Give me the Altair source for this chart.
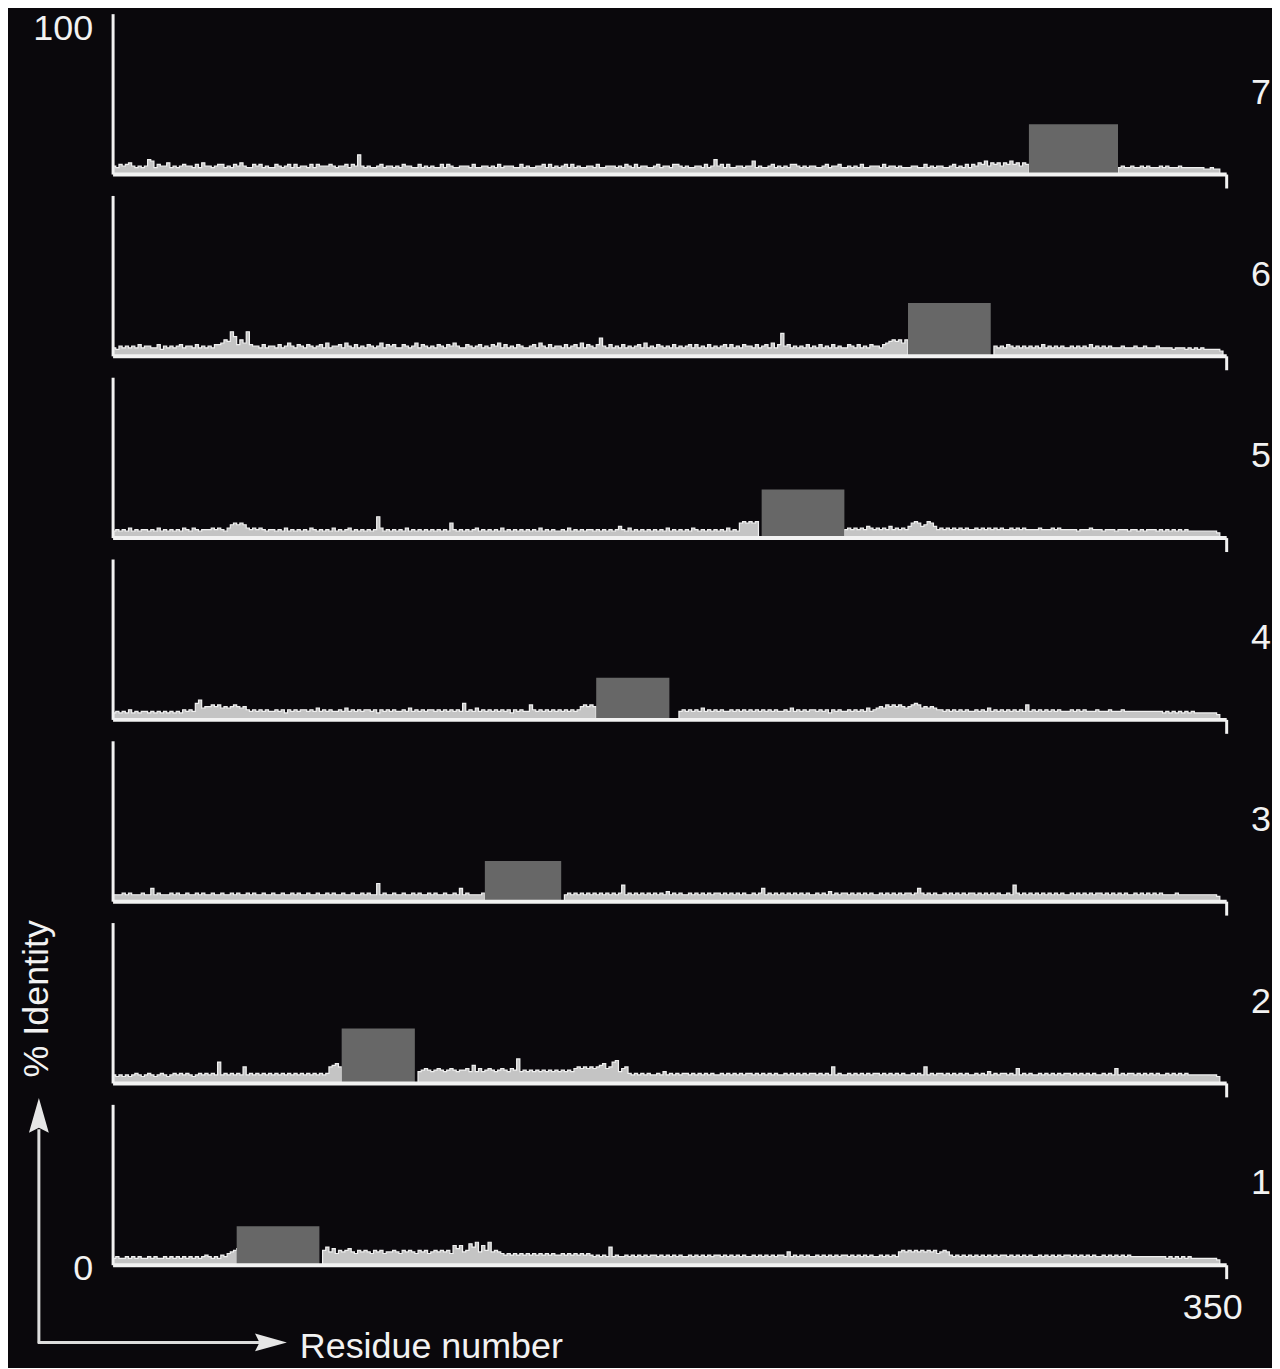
import altair as alt
import pandas as pd

# ---------------- data ----------------
panel_ids = [7, 6, 5, 4, 3, 2, 1]
block_start = [288, 250, 204, 152, 117, 72, 39]
block_end = [316, 276, 230, 175, 141, 95, 65]
block_height = [31, 33, 30, 26, 25, 34, 24]

# per-residue background identity (%), one hex digit per residue, 350 residues per panel
noise_p7 = [
    "5465675454 5984655745 4565546475 5456645465 7544656454",
    "4654564645 5464655565 4556465c54 5445645545 4655446454",
    "5446465445 5546445545 4645554464 5445564645 4564645445",
    "5464455545 4654645544 5645546654 5445546459 5646445545",
    "5845445645 4546654545 5445645564 4545464455 5464554544",
    "4554464545 5445645464 6576857675 7686757600 0000000000",
    "0000000000 0000004544 5445454445 4544454444 4443343300",
]
noise_p6 = [
    "5465656575 6655746565 6756657565 65778a9fc7 a8f7665756",
    "6575686576 5765675856 6758657565 7656857675 5765685765",
    "6576576865 5765675657 6857565765 5675865756 6575675857",
    "657b657565 7565675856 5765657565 6757565756 5675756576",
    "6575675857 e675656575 6575657565 5765756576 65789a9a8a",
    "0000000000 0000000000 0000000656 5765656565 6575656565",
    "5656565756 5656555655 5655655565 5554555454 5454444430",
]
noise_p5 = [
    "4545464545 5454645454 5465465455 5656546898 9865656545",
    "5454645454 5465454546 4545645454 545d645454 5464545454",
    "5454549545 4545645454 5464545454 5454645454 4546454545",
    "5454545457 5464545454 5454645454 5465454545 45464549a9",
    "a9a0000000 0000000000 0000000000 5656565765 6565756565",
    "79a978a975 6565656565 5656565656 5565656555 5655565655",
    "5554555655 5455545554 5545455545 4545454544 4444444300",
]
noise_p4 = [
    "4545464545 5454545454 546565ac78 8989787898 7865656565",
    "5656465656 6565756565 5657565656 6564656565 5657565656",
    "6565656565 a565756565 6565646565 5965656565 6565656898",
    "9800000000 0000000000 0000000056 5656575656 5655656565",
    "6565656565 5657565656 6565646565 5656565756 7879898987",
    "89a9787876 6565656565 5656575656 5656565956 5656565655",
    "5656565556 5556555655 5555555555 4545454545 4444444300",
]
noise_p3 = [
    "4445454445 4484544454 5445445454 4544544545 4454544544",
    "5445445454 4544544545 4454454454 544b454454 4544545445",
    "4544544548 4544445000 0000000000 0000000000 0045454545",
    "4545454545 a454545454 5454645454 4545454545 5454545454",
    "4545845454 5454545454 4545464545 5454545454 4545454545",
    "5458545454 4545454545 5454545454 454a545454 5454545454",
    "4545454545 5454545454 4545454545 4444544444 4444444300",
]
noise_p2 = [
    "5454545654 5654565456 5656545656 565d565656 5a56565656",
    "5656565656 56565656ab ca00000000 0000000000 0000007898",
    "7898789878 897b797898 7898798f78 7878787878 787879a9a9",
    "a9abc9ade7 9a65656565 5657565656 6565656565 5656565656",
    "6565656565 5656565656 656565a565 5656565656 6565656565",
    "56565a5656 6565656565 5656575656 6565956565 5656565656",
    "6565656565 5656595656 6565656565 5656565655 5555555400",
]
noise_p1 = [
    "4544545454 4545445454 5454545456 545465789a 0000000000",
    "0000000000 0000009b8a 7989a87989 8798978898 7989879897",
    "8989897cac 89dbe8c9e8 9876767676 7676767676 6767676767",
    "656565b565 5656565656 6565656565 5656565656 6565656565",
    "5656565656 6585656565 5656565656 6565656565 5656565898",
    "9898989897 8986565656 5656565656 6565656565 5656565656",
    "6565656565 5656565656 5555555555 5454545454 4444444300",
]
noise_lines = [noise_p7, noise_p6, noise_p5, noise_p4, noise_p3, noise_p2, noise_p1]

x_max = 350
y_title = "% Identity"
x_title = "Residue number"

# ---------------- style ----------------
W = 1118
H = 161
BG = "#0a080c"
FG = "#f2f2f2"
NOISE = "#c4c4c4"
NOISE_EDGE = "#f0f0f0"
BLOCK = "#676767"
FONT = "Liberation Sans"
FS = 36


def parse(lines):
    s = "".join(lines).replace(" ", "")
    return [int(c, 16) for c in s]


def make_panel(i):
    pid = panel_ids[i]
    vals = parse(noise_lines[i])
    n = len(vals)
    df = pd.DataFrame({"residue": list(range(n)) + [x_max], "identity": vals + [0]})
    bdf = pd.DataFrame({"start": [block_start[i]], "end": [block_end[i]],
                        "height": [block_height[i]]})
    ldf = pd.DataFrame({"panel": [str(pid)]})
    is_top = i == 0
    is_bottom = i == len(panel_ids) - 1

    xscale = alt.Scale(domain=[0, x_max], nice=False, zero=True)
    yscale = alt.Scale(domain=[0, 100], nice=False)
    xaxis = alt.Axis(values=[x_max], domainColor=FG, domainWidth=4, tickColor=FG,
                     tickWidth=3, tickSize=14, labels=is_bottom, labelColor=FG,
                     labelFont=FONT, labelFontSize=FS, labelOffset=-14, labelPadding=12,
                     labelFlush=False, title=None, grid=False, zindex=1)
    if is_top:
        yvals, yoff = [100], 15
    elif is_bottom:
        yvals, yoff = [0], 4
    else:
        yvals, yoff = [], 0
    yaxis = alt.Axis(values=yvals, ticks=False, tickSize=0, labels=is_top or is_bottom,
                     labelColor=FG, labelFont=FONT, labelFontSize=FS, labelPadding=20,
                     labelOffset=yoff, labelBaseline="middle", domainColor=FG,
                     domainWidth=3, title=None, grid=False, zindex=1)

    area = alt.Chart(df).mark_area(interpolate="step-after", color=NOISE).encode(
        x=alt.X("residue:Q", scale=xscale, axis=xaxis),
        y=alt.Y("identity:Q", scale=yscale, axis=yaxis),
    )
    edge = alt.Chart(df).mark_line(interpolate="step-after", color=NOISE_EDGE,
                                   strokeWidth=1.2).encode(
        x=alt.X("residue:Q", scale=xscale, axis=xaxis),
        y=alt.Y("identity:Q", scale=yscale, axis=yaxis),
    )
    rect = alt.Chart(bdf).mark_rect(color=BLOCK).encode(
        x=alt.X("start:Q", scale=xscale, axis=xaxis),
        x2="end:Q",
        y=alt.Y("height:Q", scale=yscale, axis=yaxis),
        y2=alt.datum(0),
    )
    label = alt.Chart(ldf).mark_text(font=FONT, fontSize=FS, color=FG, align="center",
                                     baseline="middle").encode(
        x=alt.value(W + 35), y=alt.value(H / 2 - 1), text="panel:N")
    layers = [area, edge, rect, label]

    if is_bottom:
        adf = pd.DataFrame({"ytitle": [y_title], "xtitle": [x_title]})
        vline = alt.Chart(adf).mark_rule(color="#dddddd", strokeWidth=3).encode(
            x=alt.value(-74), y=alt.value(240), y2=alt.value(25))
        hline = alt.Chart(adf).mark_rule(color="#dddddd", strokeWidth=3).encode(
            x=alt.value(-75), x2=alt.value(150), y=alt.value(239))
        vhead = alt.Chart(adf).mark_point(
            shape="M0,-1L0.57,1L0,0.72L-0.57,1Z", filled=True, size=1225,
            color="#e6e6e6", opacity=1, strokeWidth=0).encode(
            x=alt.value(-74), y=alt.value(11))
        hhead = alt.Chart(adf).mark_point(
            shape="M1,0L-1,0.56L-0.72,0L-1,-0.56Z", filled=True, size=1024,
            color="#e6e6e6", opacity=1, strokeWidth=0).encode(
            x=alt.value(159), y=alt.value(239))
        ytext = alt.Chart(adf).mark_text(font=FONT, fontSize=FS, color=FG, angle=270,
                                         align="center", baseline="middle").encode(
            x=alt.value(-76), y=alt.value(-106), text="ytitle:N")
        xtext = alt.Chart(adf).mark_text(font=FONT, fontSize=FS, color=FG, align="left",
                                         baseline="middle").encode(
            x=alt.value(188), y=alt.value(244), text="xtitle:N")
        layers += [vline, hline, vhead, hhead, ytext, xtext]

    return alt.layer(*layers).properties(width=W, height=H)


panels = [make_panel(i) for i in range(len(panel_ids))]

chart = alt.vconcat(*panels, spacing=21.5, bounds="flush").properties(
    background=BG,
    padding={"left": 10, "top": 0, "right": 0, "bottom": 0},
).configure_view(stroke=None)

chart.save("out.html", embed_options={"renderer": "svg", "actions": False})
